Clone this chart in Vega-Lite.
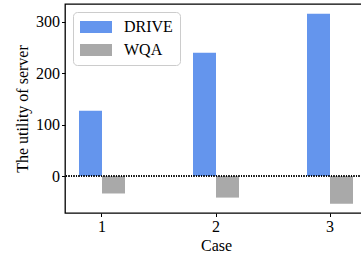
{
  "$schema": "https://vega.github.io/schema/vega-lite/v6.json",
  "autosize": "none",
  "padding": {"left": 65, "top": 4, "right": 0, "bottom": 43},
  "width": 302,
  "height": 209,
  "config": {
    "font": "Liberation Serif, serif",
    "view": {"stroke": "black", "strokeWidth": 1.3},
    "axis": {
      "domain": false,
      "grid": false,
      "tickColor": "black",
      "tickSize": 3.5,
      "tickWidth": 1,
      "labelColor": "black",
      "labelFontSize": 16,
      "labelFont": "Liberation Serif, serif",
      "titleFont": "Liberation Serif, serif",
      "titleFontSize": 16,
      "titleFontWeight": "normal",
      "titleColor": "black",
      "labelPadding": 2
    },
    "legend": {"labelFont": "Liberation Serif, serif"}
  },
  "data": {
    "values": [
      {"case": "1", "method": "DRIVE", "value": 127},
      {"case": "1", "method": "WQA", "value": -34},
      {"case": "2", "method": "DRIVE", "value": 240},
      {"case": "2", "method": "WQA", "value": -42},
      {"case": "3", "method": "DRIVE", "value": 316},
      {"case": "3", "method": "WQA", "value": -54}
    ]
  },
  "layer": [
    {
      "mark": {"type": "bar"},
      "encoding": {
        "x": {
          "field": "case",
          "type": "ordinal",
          "scale": {"paddingInner": 0.5965, "paddingOuter": 0.1228},
          "axis": {"title": "Case", "labelAngle": 0, "titlePadding": 3}
        },
        "xOffset": {
          "field": "method",
          "type": "nominal",
          "sort": ["DRIVE", "WQA"],
          "scale": {"paddingInner": 0, "paddingOuter": 0}
        },
        "y": {
          "field": "value",
          "type": "quantitative",
          "scale": {"domain": [-72, 335], "nice": false, "zero": false},
          "axis": {"values": [0, 100, 200, 300], "title": "The utility of server", "titlePadding": 5}
        },
        "color": {
          "field": "method",
          "type": "nominal",
          "scale": {"domain": ["DRIVE", "WQA"], "range": ["#6495ED", "#A9A9A9"]},
          "legend": {
            "title": null,
            "orient": "none",
            "legendX": 8,
            "legendY": 8,
            "symbolType": "M-1,-0.75H3V0.75H-1Z",
            "symbolSize": 256,
            "symbolStrokeWidth": 0,
            "symbolOpacity": 1,
            "labelFontSize": 16,
            "labelColor": "black",
            "labelOffset": 28,
            "rowPadding": 7,
            "padding": 7,
            "strokeColor": "#cccccc",
            "fillColor": "white",
            "cornerRadius": 4
          }
        }
      }
    },
    {
      "mark": {"type": "rule", "strokeDash": [1, 1.5], "color": "black", "strokeWidth": 0.9},
      "encoding": {"y": {"datum": 0}}
    }
  ]
}
